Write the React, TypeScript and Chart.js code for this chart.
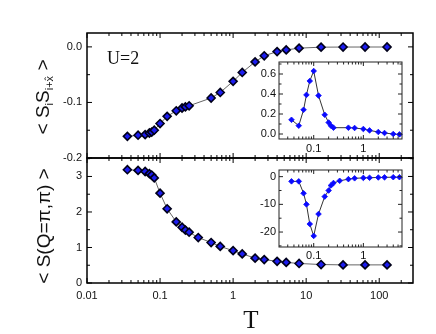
import React, { useEffect, useRef } from 'react';
import { Chart, registerables } from 'chart.js';

Chart.register(...registerables);

// ---------------- data ----------------
const T_NN = [0.0357, 0.05, 0.0625, 0.0714, 0.0769, 0.0833, 0.1, 0.125, 0.1667, 0.2, 0.2222, 0.25, 0.5, 0.6667, 1, 1.333, 2, 2.667, 4, 5.333, 8, 16, 32, 64, 128];
const NN = [-0.161, -0.159, -0.158, -0.155, -0.1535, -0.15, -0.138, -0.125, -0.115, -0.11, -0.108, -0.106, -0.092, -0.082, -0.062, -0.046, -0.027, -0.016, -0.0085, -0.0054, -0.0023, -0.0005, -0.0003, -0.0002, -0.0002];

const T_SQ = [0.0357, 0.05, 0.0625, 0.0714, 0.0769, 0.0833, 0.1, 0.125, 0.1667, 0.2, 0.2222, 0.25, 0.3333, 0.5, 0.6667, 1, 1.333, 2, 2.667, 4, 5.333, 8, 16, 32, 64, 128];
const SQ = [3.19, 3.17, 3.14, 3.08, 3.04, 2.96, 2.53, 2.09, 1.72, 1.57, 1.49, 1.43, 1.28, 1.14, 1.03, 0.91, 0.82, 0.7, 0.66, 0.61, 0.58, 0.55, 0.52, 0.51, 0.51, 0.51];

const T_DNN = [0.0357, 0.05, 0.0625, 0.0714, 0.0833, 0.1, 0.125, 0.1667, 0.2, 0.2222, 0.25, 0.5, 0.6667, 1, 1.333, 2, 2.667, 4, 5.333];
const DNN = [0.142, 0.083, 0.242, 0.391, 0.53, 0.63, 0.384, 0.192, 0.115, 0.083, 0.063, 0.063, 0.06, 0.05, 0.036, 0.02, 0.01, 0.0, -0.004];

const T_DSQ = [0.0357, 0.05, 0.0625, 0.0714, 0.0833, 0.1, 0.125, 0.1667, 0.2, 0.2222, 0.25, 0.3333, 0.5, 0.6667, 1, 1.333, 2, 2.667, 4, 5.333];
const DSQ = [-1.7, -1.7, -6.0, -10.0, -17.1, -21.4, -13.5, -7.2, -5.0, -3.2, -2.3, -1.5, -0.9, -0.6, -0.45, -0.4, -0.3, -0.25, -0.2, -0.2];

// ---------------- ticks ----------------
const MAIN_X_TICKS = [0.01, 0.1, 1, 10, 100];
const MAIN_X_LABELS = ['0.01', '0.1', '1', '10', '100'];
const INSET_X_TICKS = [0.1, 1];
const INSET_X_LABELS = ['0.1', '1'];

const NN_Y_TICKS = [-0.2, -0.1, 0];
const NN_Y_LABELS = ['-0.2', '-0.1', '0.0'];
const NN_Y_MINOR = [-0.15, -0.05];

const SQ_Y_TICKS = [0, 1, 2, 3];
const SQ_Y_LABELS = ['0', '1', '2', '3'];
const SQ_Y_MINOR = [0.5, 1.5, 2.5, 3.5];

const DNN_Y_TICKS = [0, 0.2, 0.4, 0.6];
const DNN_Y_LABELS = ['0.0', '0.2', '0.4', '0.6'];
const DNN_Y_MINOR = [0.1, 0.3, 0.5, 0.7];

const DSQ_Y_TICKS = [-20, -10, 0];
const DSQ_Y_LABELS = ['-20', '-10', '0'];
const DSQ_Y_MINOR = [-25, -15, -5];

function logMinors(min: number, max: number): number[] {
  const out: number[] = [];
  for (let e = -3; e <= 3; e++) {
    const base = Math.pow(10, e);
    for (let k = 2; k <= 9; k++) {
      const v = k * base;
      if (v > min && v < max) out.push(v);
    }
  }
  return out;
}

const W = 436;
const H = 334;
const FONT = '"Liberation Sans", Arial, Helvetica, sans-serif';

const framePlugin = {
  id: 'frame',
  beforeDraw(chart: any, _a: any, o: any) {
    if (o.bg) {
      const { left, top, right, bottom } = chart.chartArea;
      const ctx = chart.ctx;
      ctx.save();
      ctx.fillStyle = o.bg;
      ctx.fillRect(left, top, right - left, bottom - top);
      ctx.restore();
    }
  },
  afterDraw(chart: any, _a: any, o: any) {
    const ctx = chart.ctx;
    const { left, top, right, bottom } = chart.chartArea;
    const xs = chart.scales.x;
    const ys = chart.scales.y;
    ctx.save();
    ctx.strokeStyle = o.color;
    ctx.lineWidth = o.tickWidth;
    const seg = (x1: number, y1: number, x2: number, y2: number) => {
      ctx.beginPath();
      ctx.moveTo(x1, y1);
      ctx.lineTo(x2, y2);
      ctx.stroke();
    };
    const xt = (vals: number[], len: number) => vals.forEach((v) => {
      const px = xs.getPixelForValue(v);
      if (px < left - 0.5 || px > right + 0.5) return;
      seg(px, bottom, px, bottom - len);
      seg(px, top, px, top + len);
    });
    const yt = (vals: number[], len: number) => vals.forEach((v) => {
      const py = ys.getPixelForValue(v);
      if (py < top - 0.5 || py > bottom + 0.5) return;
      seg(left, py, left + len, py);
      seg(right, py, right - len, py);
    });
    xt(o.xMajor, o.major);
    xt(o.xMinor, o.minor);
    yt(o.yMajor, o.major);
    yt(o.yMinor, o.minor);
    ctx.lineWidth = o.lineWidth;
    ctx.strokeRect(left, top, right - left, bottom - top);
    ctx.restore();
  },
};

type Spec = {
  xs: number[]; ys: number[];
  xMin: number; xMax: number; yMin: number; yMax: number;
  area: [number, number, number, number];
  xTicks: number[]; xLabels: string[] | null;
  yTicks: number[]; yLabels: string[]; yMinor: number[];
  yAxisW: number; xAxisH: number; xPad: number; yPad: number;
  inset: boolean;
};

function buildConfig(s: Spec): any {
  const inset = s.inset;
  return {
    type: 'line',
    data: {
      datasets: [{
        data: s.xs.map((x, i) => ({ x, y: s.ys[i] })),
        borderColor: inset ? '#333333' : '#666666',
        borderWidth: 1,
        tension: 0,
        fill: false,
        pointStyle: 'rectRot',
        pointRadius: inset ? 2.8 : 4,
        pointBackgroundColor: inset ? '#0a0aff' : '#1c1cf0',
        pointBorderColor: inset ? '#0a0aff' : '#00001a',
        pointBorderWidth: inset ? 0.8 : 1.6,
        clip: false,
      }],
    },
    options: {
      responsive: false,
      animation: false,
      events: [],
      layout: {
        padding: {
          left: s.area[0] - s.yAxisW,
          top: s.area[1],
          right: W - s.area[2],
          bottom: H - s.area[3] - s.xAxisH,
        },
      },
      plugins: {
        legend: { display: false },
        tooltip: { enabled: false },
        frame: {
          bg: inset ? '#ffffff' : null,
          color: inset ? '#222222' : '#000000',
          lineWidth: inset ? 1 : 1.5,
          tickWidth: 1,
          major: inset ? 4 : 5,
          minor: inset ? 2.5 : 3,
          xMajor: s.xTicks,
          xMinor: logMinors(s.xMin, s.xMax),
          yMajor: s.yTicks,
          yMinor: s.yMinor,
        },
      },
      scales: {
        x: {
          type: 'logarithmic',
          min: s.xMin,
          max: s.xMax,
          grid: { display: false, drawTicks: false },
          border: { display: false },
          ticks: {
            display: !!s.xLabels,
            autoSkip: false,
            maxRotation: 0,
            minRotation: 0,
            padding: s.xPad,
            color: '#111111',
            font: { family: FONT, size: 11 },
            callback: (v: any) => {
              const i = s.xTicks.indexOf(Number(v));
              return s.xLabels && i >= 0 ? s.xLabels[i] : '';
            },
          },
          afterBuildTicks: (sc: any) => { sc.ticks = s.xTicks.map((v) => ({ value: v })); },
          afterFit: (sc: any) => { sc.height = s.xAxisH; },
        },
        y: {
          type: 'linear',
          min: s.yMin,
          max: s.yMax,
          grid: { display: false, drawTicks: false },
          border: { display: false },
          ticks: {
            autoSkip: false,
            padding: s.yPad,
            color: '#111111',
            font: { family: FONT, size: 11 },
            callback: (v: any) => {
              const i = s.yTicks.indexOf(Number(v));
              return i >= 0 ? s.yLabels[i] : '';
            },
          },
          afterBuildTicks: (sc: any) => { sc.ticks = s.yTicks.map((v) => ({ value: v })); },
          afterFit: (sc: any) => { sc.width = s.yAxisW; },
        },
      },
    },
    plugins: [framePlugin],
  };
}

const SPECS: Spec[] = [
  {
    xs: T_NN, ys: NN, xMin: 0.01, xMax: 290, yMin: -0.2, yMax: 0.025,
    area: [87, 33, 413, 158], xTicks: MAIN_X_TICKS, xLabels: null,
    yTicks: NN_Y_TICKS, yLabels: NN_Y_LABELS, yMinor: NN_Y_MINOR,
    yAxisW: 40, xAxisH: 0, xPad: 6, yPad: 5, inset: false,
  },
  {
    xs: T_SQ, ys: SQ, xMin: 0.01, xMax: 290, yMin: 0, yMax: 3.52,
    area: [87, 158, 413, 283], xTicks: MAIN_X_TICKS, xLabels: MAIN_X_LABELS,
    yTicks: SQ_Y_TICKS, yLabels: SQ_Y_LABELS, yMinor: SQ_Y_MINOR,
    yAxisW: 40, xAxisH: 30, xPad: 6, yPad: 5, inset: false,
  },
  {
    xs: T_DNN, ys: DNN, xMin: 0.02, xMax: 6, yMin: -0.05, yMax: 0.72,
    area: [279, 62, 402, 139], xTicks: INSET_X_TICKS, xLabels: INSET_X_LABELS,
    yTicks: DNN_Y_TICKS, yLabels: DNN_Y_LABELS, yMinor: DNN_Y_MINOR,
    yAxisW: 30, xAxisH: 18, xPad: 3, yPad: 3, inset: true,
  },
  {
    xs: T_DSQ, ys: DSQ, xMin: 0.02, xMax: 6, yMin: -25.4, yMax: 2.4,
    area: [279, 170, 402, 247], xTicks: INSET_X_TICKS, xLabels: INSET_X_LABELS,
    yTicks: DSQ_Y_TICKS, yLabels: DSQ_Y_LABELS, yMinor: DSQ_Y_MINOR,
    yAxisW: 30, xAxisH: 18, xPad: 2, yPad: 3, inset: true,
  },
];

export default function App() {
  const refs = [useRef<HTMLCanvasElement>(null), useRef<HTMLCanvasElement>(null), useRef<HTMLCanvasElement>(null), useRef<HTMLCanvasElement>(null)];

  useEffect(() => {
    const charts = SPECS.map((s, i) => new Chart(refs[i].current as HTMLCanvasElement, buildConfig(s)));
    return () => charts.forEach((c) => c.destroy());
  }, []);

  const cv: React.CSSProperties = { position: 'absolute', left: 0, top: 0, width: W, height: H };
  const sub: React.CSSProperties = { fontSize: '11px', verticalAlign: '-4px', lineHeight: 1 };

  return (
    <div style={{ position: 'absolute', left: 0, top: 0, width: W, height: H, background: '#ffffff', overflow: 'hidden' }}>
      {refs.map((r, i) => (
        <canvas key={i} ref={r} width={W} height={H} style={cv} />
      ))}
      <div style={{
        position: 'absolute', left: 44, top: 97, transform: 'translate(-50%, -50%) rotate(-90deg)',
        whiteSpace: 'nowrap', fontFamily: FONT, fontSize: '19px', lineHeight: 1, color: '#111',
      }}>
        &lt; S<span style={sub}>i</span>S<span style={sub}>i+x&#770;</span> &gt;
      </div>
      <div style={{
        position: 'absolute', left: 43, top: 226, transform: 'translate(-50%, -50%) rotate(-90deg)',
        whiteSpace: 'nowrap', fontFamily: FONT, fontSize: '19px', lineHeight: 1, color: '#111',
      }}>
        &lt; S(Q=π,π) &gt;
      </div>
      <div style={{
        position: 'absolute', left: 107, top: 49, whiteSpace: 'nowrap',
        fontFamily: '"Liberation Serif", "Times New Roman", serif', fontSize: '18px', lineHeight: 1, color: '#111',
      }}>
        U=2
      </div>
      <div style={{
        position: 'absolute', left: 251, top: 307, transform: 'translateX(-50%)', whiteSpace: 'nowrap',
        fontFamily: '"Liberation Serif", "Times New Roman", serif', fontSize: '25px', lineHeight: 1, color: '#111',
      }}>
        T
      </div>
    </div>
  );
}
